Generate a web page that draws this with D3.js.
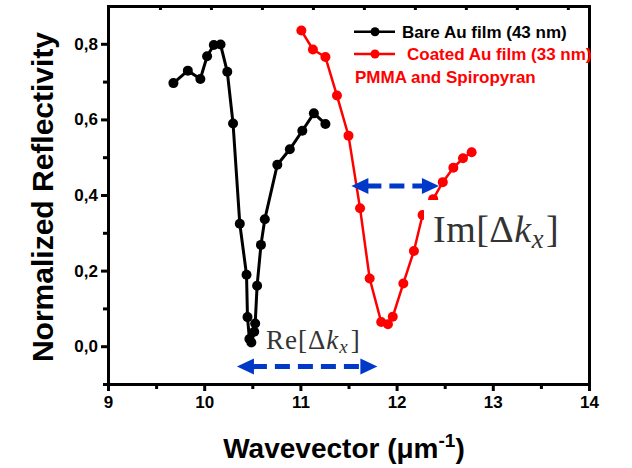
<!DOCTYPE html>
<html>
<head>
<meta charset="utf-8">
<script src="https://cdn.jsdelivr.net/npm/d3@7"></script>
<style>
  html, body { margin: 0; padding: 0; background: #fff; overflow: hidden; }
  svg { display: block; color: #000; }
  text { font-family: "Liberation Sans", Arial, sans-serif; }
</style>
</head>
<body>
<svg id="chart" width="632" height="468"></svg>
<script>
// bare Au film (43 nm)
var bareX = [9.68, 9.83, 9.96, 10.03, 10.10, 10.17, 10.24, 10.30, 10.37, 10.44, 10.45, 10.47,
             10.49, 10.52, 10.53, 10.55, 10.59, 10.63, 10.76, 10.89, 11.02, 11.14, 11.26]
var bareY = [0.696, 0.729, 0.707, 0.767, 0.797, 0.798, 0.726, 0.589, 0.324, 0.189, 0.077, 0.019,
             0.010, 0.038, 0.060, 0.160, 0.268, 0.336, 0.480, 0.521, 0.570, 0.616, 0.588]
// coated Au film (33 nm) PMMA and spiropyran
var coatX = [11.01, 11.13, 11.26, 11.38, 11.50, 11.62, 11.72, 11.84, 11.91, 11.96, 12.07, 12.18,
             12.27, 12.38, 12.48, 12.59, 12.69, 12.78]
var coatY = [0.835, 0.785, 0.765, 0.663, 0.557, 0.365, 0.179, 0.064, 0.058, 0.078, 0.166, 0.252,
             0.347, 0.389, 0.434, 0.472, 0.497, 0.513]

var xTicks = [9, 10, 11, 12, 13, 14]
var xMinor = [9.5, 10.5, 11.5, 12.5, 13.5]
var yTicks = [0, 0.2, 0.4, 0.6, 0.8]
var yTickLabels = ["0,0", "0,2", "0,4", "0,6", "0,8"]
var yMinor = [-0.1, 0.1, 0.3, 0.5, 0.7]
var topTicks = [9.54, 10.07, 10.6, 11.13, 11.66, 12.19, 12.72, 13.25, 13.78]

// annotation arrows [x1, x2, y] in data units
var reArrow = [10.34, 11.80, -0.054]
var imArrow = [11.53, 12.44, 0.424]

var margin = { top: 6, left: 108 }
var width = 481, height = 378

var svg = d3.select("#chart")
var g = svg.append("g").attr("transform", "translate(" + margin.left + "," + margin.top + ")")

var x = d3.scaleLinear().domain([9, 14]).range([0, width])
var y = d3.scaleLinear().domain([-0.1, 0.9]).range([height, 0])

// bottom axis
g.append("g").attr("class", "ax").attr("transform", "translate(0," + height + ")")
    .call(d3.axisBottom(x).tickValues(xTicks).tickSize(7).tickPadding(5).tickFormat(d3.format("d")))
g.append("g").attr("class", "ax").attr("transform", "translate(0," + height + ")")
    .call(d3.axisBottom(x).tickValues(xMinor).tickSize(5).tickFormat(""))

// left axis
g.append("g").attr("class", "ax")
    .call(d3.axisLeft(y).tickValues(yTicks).tickSize(7).tickPadding(3)
        .tickFormat(function(d, i) { return yTickLabels[i] }))
g.append("g").attr("class", "ax")
    .call(d3.axisLeft(y).tickValues(yMinor).tickSize(5).tickFormat(""))

// top inward ticks
g.append("g").attr("class", "ax")
    .call(d3.axisTop(x).tickValues(topTicks).tickSize(-4).tickFormat(""))

g.selectAll(".ax").attr("font-size", null).attr("font-family", null)
g.selectAll(".domain").remove()
g.selectAll(".tick line").attr("stroke", "#000").attr("stroke-width", 3)
g.selectAll(".tick text")
    .attr("font-size", 17).attr("font-weight", "bold").attr("fill", "#000")

// series
var line = d3.line().x(function(d) { return x(d[0]) }).y(function(d) { return y(d[1]) })
var bare = d3.zip(bareX, bareY)
var coat = d3.zip(coatX, coatY)

g.append("path").datum(bare).attr("d", line)
    .attr("fill", "none").attr("stroke", "#000").attr("stroke-width", 3)
g.selectAll("circle.bare").data(bare).enter().append("circle")
    .attr("class", "bare").attr("cx", function(d) { return x(d[0]) }).attr("cy", function(d) { return y(d[1]) })
    .attr("r", 5).attr("fill", "#000")

g.append("path").datum(coat).attr("d", line)
    .attr("fill", "none").attr("stroke", "#ff0000").attr("stroke-width", 2.5)
g.selectAll("circle.coat").data(coat).enter().append("circle")
    .attr("class", "coat").attr("cx", function(d) { return x(d[0]) }).attr("cy", function(d) { return y(d[1]) })
    .attr("r", 5).attr("fill", "#ff0000")

// arrows
var blue = "#0038c8"
function arrow(a) {
    var x1 = x(a[0]), x2 = x(a[1]), yy = y(a[2]), hl = 17, hh = 8
    var ag = g.append("g")
    ag.append("line").attr("x1", x1 + hl - 2).attr("x2", x2 - hl + 2).attr("y1", yy).attr("y2", yy)
        .attr("stroke", blue).attr("stroke-width", 5).attr("stroke-dasharray", "15,8")
    ag.append("path").attr("fill", blue)
        .attr("d", "M" + x1 + "," + yy + "L" + (x1 + hl) + "," + (yy - hh) + "L" + (x1 + hl) + "," + (yy + hh) + "Z")
    ag.append("path").attr("fill", blue)
        .attr("d", "M" + x2 + "," + yy + "L" + (x2 - hl) + "," + (yy - hh) + "L" + (x2 - hl) + "," + (yy + hh) + "Z")
}
arrow(reArrow)
arrow(imArrow)

// math labels
function mathLabel(px, py, size, head) {
    var t = g.append("text").attr("x", px).attr("y", py)
        .style("font-family", "'Liberation Serif', 'DejaVu Serif', serif")
        .attr("font-size", size).attr("fill", "#333")
    t.append("tspan").text(head + "[\u0394")
    t.append("tspan").attr("font-style", "italic").text("k")
    t.append("tspan").attr("font-style", "italic").attr("font-size", size * 0.7).attr("dy", size * 0.15).text("x")
    t.append("tspan").attr("dy", -size * 0.15).attr("dx", 2).text("]")
    return t
}
// white box behind Im label
g.append("rect").attr("x", 424 - margin.left).attr("y", 200 - margin.top)
    .attr("width", 140).attr("height", 62).attr("fill", "#fff")
mathLabel(433 - margin.left, 242 - margin.top, 38, "Im").attr("letter-spacing", 0.5)
mathLabel(266 - margin.left, 349 - margin.top, 27, "Re").attr("letter-spacing", 1)

// frame on top
var frame = "M0,0H" + width + "V" + height + "H0Z"
g.append("path").attr("d", frame).attr("fill", "none")
    .attr("stroke", "#000").attr("stroke-width", 3).attr("shape-rendering", "crispEdges")

// legend
var leg = [
    { label: "Bare Au film (43 nm)", color: "#000", y: 31.7, tx: 402 },
    { label: "Coated Au film (33 nm)", color: "#ff0000", y: 54, tx: 407 }
]
leg.forEach(function(l) {
    svg.append("line").attr("x1", 354).attr("x2", 395).attr("y1", l.y).attr("y2", l.y)
        .attr("stroke", l.color).attr("stroke-width", 2.5)
    svg.append("circle").attr("cx", 375).attr("cy", l.y).attr("r", 4.5).attr("fill", l.color)
    svg.append("text").attr("x", l.tx).attr("y", l.y + 6).attr("font-size", 17).attr("font-weight", "bold")
        .attr("fill", l.color).text(l.label)
})
svg.append("text").attr("x", 355).attr("y", 82.5).attr("font-size", 17).attr("font-weight", "bold")
    .attr("fill", "#ff0000").text("PMMA and Spiropyran")

// axis titles
svg.append("text").attr("transform", "translate(53,197) rotate(-90)")
    .attr("text-anchor", "middle").attr("font-size", 30).attr("font-weight", "bold")
    .text("Normalized Reflectivity")

var xt = svg.append("text").attr("x", 344).attr("y", 458).attr("text-anchor", "middle")
    .attr("font-size", 28).attr("font-weight", "bold")
xt.append("tspan").text("Wavevector (\u03bcm")
xt.append("tspan").attr("font-size", 19).attr("dy", -11).text("-1")
xt.append("tspan").attr("dy", 11).text(")")
</script>
</body>
</html>
